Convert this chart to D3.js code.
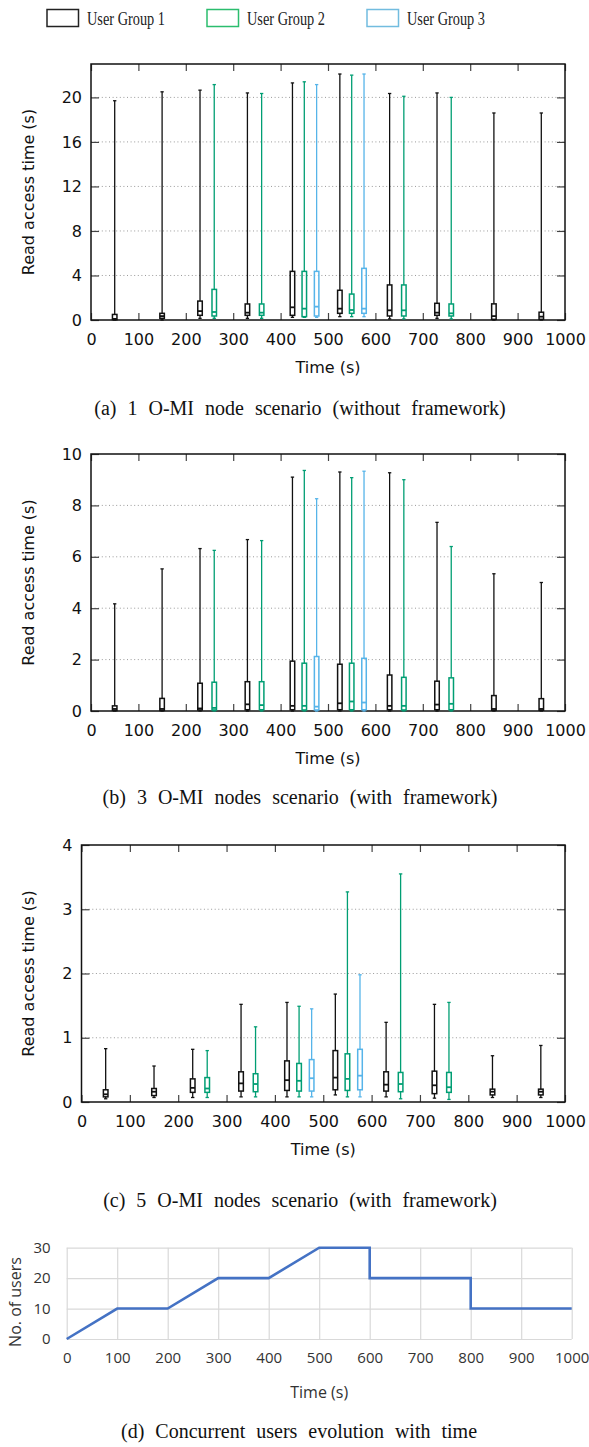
<!DOCTYPE html>
<html>
<head>
<meta charset="utf-8">
<script src="https://cdn.jsdelivr.net/npm/d3@7"></script>
<style>
body { margin: 0; background: #fff; }
svg { display: block; }
.gp text { font-family: "DejaVu Sans", sans-serif; font-size: 16px; fill: #111; }
.cap { font-family: "Liberation Serif", serif; font-size: 20px; word-spacing: 6px; fill: #111; }
.xl text { font-family: "Open Sans", sans-serif; font-size: 15px; fill: #333; }
.leg text { font-family: "Liberation Serif", serif; font-size: 18px; fill: #222; }
</style>
</head>
<body>
<div id="chart"></div>
<script>
// Labels of the groups
var groupNames = ["User Group 1", "User Group 2", "User Group 3"]

// centre time (s) of every box, per group
var g1Times = [50, 150, 230, 330, 425, 525, 630, 730, 850, 950]
var g2Times = [260, 360, 450, 550, 660, 760]
var g3Times = [476, 576]

// [min, q1, median, q3, max] read access time (s)
// (a) 1 O-MI node
var aG1 = [[0, 0.03, 0.1, 0.5, 19.7], [0, 0.15, 0.35, 0.6, 20.5], [0.15, 0.42, 0.8, 1.7, 20.65],
  [0.15, 0.42, 0.66, 1.44, 20.4], [0.24, 0.42, 1.14, 4.37, 21.3], [0.3, 0.6, 1.02, 2.67, 22.1],
  [0.1, 0.36, 0.87, 3.15, 20.35], [0.15, 0.42, 0.66, 1.5, 20.4], [0, 0.06, 0.35, 1.45, 18.6],
  [0, 0.06, 0.3, 0.7, 18.6]]
var aG2 = [[0.15, 0.36, 0.72, 2.75, 21.15], [0.15, 0.42, 0.66, 1.44, 20.35], [0.24, 0.3, 1.02, 4.37, 21.4],
  [0.3, 0.6, 0.9, 2.33, 22.0], [0.1, 0.36, 0.87, 3.15, 20.1], [0.1, 0.36, 0.6, 1.44, 20.0]]
var aG3 = [[0.24, 0.36, 1.2, 4.37, 21.15], [0.3, 0.6, 1.02, 4.64, 22.1]]

// (b) 3 O-MI nodes
var bG1 = [[0, 0.02, 0.08, 0.2, 4.17], [0, 0.02, 0.08, 0.49, 5.53], [0, 0.04, 0.1, 1.08, 6.32],
  [0, 0.05, 0.26, 1.14, 6.67], [0, 0.05, 0.2, 1.94, 9.1], [0, 0.05, 0.3, 1.82, 9.3],
  [0, 0.05, 0.2, 1.4, 9.27], [0, 0.05, 0.25, 1.16, 7.34], [0, 0.03, 0.08, 0.6, 5.34],
  [0, 0.03, 0.08, 0.48, 5.0]]
var bG2 = [[0, 0.04, 0.12, 1.12, 6.25], [0, 0.05, 0.23, 1.14, 6.63], [0, 0.04, 0.2, 1.86, 9.36],
  [0, 0.05, 0.37, 1.86, 9.08], [0, 0.04, 0.2, 1.31, 9.0], [0, 0.05, 0.28, 1.29, 6.4]]
var bG3 = [[0, 0.04, 0.17, 2.12, 8.26], [0, 0.05, 0.33, 2.05, 9.33]]

// (c) 5 O-MI nodes
var cG1 = [[0.05, 0.08, 0.12, 0.19, 0.83], [0.07, 0.1, 0.16, 0.21, 0.56], [0.07, 0.15, 0.22, 0.36, 0.82],
  [0.08, 0.17, 0.29, 0.47, 1.52], [0.08, 0.18, 0.34, 0.64, 1.55], [0.11, 0.19, 0.38, 0.8, 1.68],
  [0.08, 0.17, 0.27, 0.47, 1.24], [0.06, 0.13, 0.26, 0.48, 1.52], [0.07, 0.11, 0.16, 0.2, 0.72],
  [0.07, 0.11, 0.16, 0.2, 0.88]]
var cG2 = [[0.07, 0.15, 0.21, 0.38, 0.8], [0.08, 0.16, 0.28, 0.44, 1.17], [0.08, 0.17, 0.33, 0.6, 1.49],
  [0.08, 0.18, 0.36, 0.75, 3.27], [0.05, 0.16, 0.28, 0.46, 3.55], [0.04, 0.15, 0.23, 0.46, 1.55]]
var cG3 = [[0.08, 0.17, 0.37, 0.66, 1.45], [0.08, 0.19, 0.41, 0.82, 1.98]]

// tick labels
var xTicks = [0, 100, 200, 300, 400, 500, 600, 700, 800, 900, 1000]
var yTicksA = [0, 4, 8, 12, 16, 20]
var yTicksB = [0, 2, 4, 6, 8, 10]
var yTicksC = [0, 1, 2, 3, 4]

// (d) concurrent users
var userTimes = [0, 100, 200, 300, 400, 500, 600, 600, 800, 800, 1000]
var userCounts = [0, 10, 10, 20, 20, 30, 30, 20, 20, 10, 10]
var userTicks = [0, 10, 20, 30]

var captions = ["(a) 1 O-MI node scenario (without framework)",
  "(b) 3 O-MI nodes scenario (with framework)",
  "(c) 5 O-MI nodes scenario (with framework)",
  "(d) Concurrent users evolution with time"]

var plotColors = ["#111111", "#009e73", "#56b4e9"]
var legendColors = ["#222222", "#2bbd6e", "#72bcdf"]

var W = 589, H = 1447
var svg = d3.select("#chart").append("svg")
  .attr("width", W)
  .attr("height", H)

// legend
var leg = svg.append("g").attr("class", "leg")
var legX = [47, 207, 367]
groupNames.forEach(function(name, i) {
  leg.append("rect")
    .attr("x", legX[i]).attr("y", 9.5)
    .attr("width", 31.5).attr("height", 17)
    .attr("fill", "none")
    .attr("stroke", legendColors[i])
    .attr("stroke-width", 1.5)
  leg.append("text")
    .attr("x", legX[i] + 40).attr("y", 25)
    .attr("textLength", 78).attr("lengthAdjust", "spacingAndGlyphs")
    .text(name)
})

function drawBoxPanel(p) {
  var g = svg.append("g").attr("class", "gp")
  var x = d3.scaleLinear().domain([0, 1000]).range([p.left, p.right])
  var y = d3.scaleLinear().domain([0, p.ymax]).range([p.bottom, p.top])

  // dotted grid
  g.selectAll(".grid")
    .data(p.yTicks.filter(function(d) { return d > 0 && d < p.ymax }))
    .enter().append("line")
    .attr("x1", p.left).attr("x2", p.right)
    .attr("y1", function(d) { return y(d) }).attr("y2", function(d) { return y(d) })
    .attr("stroke", "#9a9a9a").attr("stroke-width", 1)
    .attr("stroke-dasharray", "1,2.6")

  // axes, gnuplot style: ticks inside on all four sides
  g.append("g").attr("transform", "translate(0," + p.bottom + ")")
    .call(d3.axisBottom(x).tickValues(xTicks).tickSize(-7).tickPadding(13.5).tickFormat(d3.format("d")))
  g.append("g").attr("transform", "translate(0," + p.top + ")")
    .call(d3.axisTop(x).tickValues(xTicks).tickSize(-7).tickFormat(""))
  g.append("g").attr("transform", "translate(" + p.left + ",0)")
    .call(d3.axisLeft(y).tickValues(p.yTicks).tickSize(-8).tickPadding(9).tickFormat(d3.format("d")))
  g.append("g").attr("transform", "translate(" + p.right + ",0)")
    .call(d3.axisRight(y).tickValues(p.yTicks).tickSize(-8).tickFormat(""))
  g.selectAll(".domain").remove()
  g.selectAll(".tick line").attr("stroke", "#444").attr("stroke-width", 1.2)
  g.selectAll(".tick text").attr("fill", "#111").style("font-size", "16px")
    .style("font-family", "DejaVu Sans, sans-serif")

  g.append("rect")
    .attr("x", p.left).attr("y", p.top)
    .attr("width", p.right - p.left).attr("height", p.bottom - p.top)
    .attr("fill", "none").attr("stroke", "#111").attr("stroke-width", 1.5)

  // boxes
  var bw = 9.5, cw = 7
  p.series.forEach(function(s, gi) {
    var col = plotColors[gi]
    var data = s.times.map(function(t, i) { return {t: t, v: s.vals[i]} })
    var bx = g.append("g").selectAll("g").data(data).enter().append("g")
    bx.append("line")
      .attr("x1", function(d) { return x(d.t) }).attr("x2", function(d) { return x(d.t) })
      .attr("y1", function(d) { return y(d.v[0]) }).attr("y2", function(d) { return y(d.v[1]) })
    bx.append("line")
      .attr("x1", function(d) { return x(d.t) }).attr("x2", function(d) { return x(d.t) })
      .attr("y1", function(d) { return y(d.v[3]) }).attr("y2", function(d) { return y(d.v[4]) })
    bx.append("line")
      .attr("x1", function(d) { return x(d.t - cw / 2) }).attr("x2", function(d) { return x(d.t + cw / 2) })
      .attr("y1", function(d) { return y(d.v[4]) }).attr("y2", function(d) { return y(d.v[4]) })
    bx.append("line")
      .attr("x1", function(d) { return x(d.t - cw / 2) }).attr("x2", function(d) { return x(d.t + cw / 2) })
      .attr("y1", function(d) { return y(d.v[0]) }).attr("y2", function(d) { return y(d.v[0]) })
    bx.append("rect")
      .attr("x", function(d) { return x(d.t - bw / 2) })
      .attr("width", x(bw) - x(0))
      .attr("y", function(d) { return y(d.v[3]) })
      .attr("height", function(d) { return y(d.v[1]) - y(d.v[3]) })
      .attr("fill", "none")
    bx.append("line")
      .attr("x1", function(d) { return x(d.t - bw / 2) }).attr("x2", function(d) { return x(d.t + bw / 2) })
      .attr("y1", function(d) { return y(d.v[2]) }).attr("y2", function(d) { return y(d.v[2]) })
      .attr("stroke-width", 1.8)
    bx.selectAll("line, rect").attr("stroke", col)
    bx.selectAll("line").filter(function() { return !this.getAttribute("stroke-width") })
      .attr("stroke-width", 1.3)
    bx.selectAll("rect").attr("stroke-width", 1.5)
  })

  g.append("text")
    .attr("text-anchor", "middle")
    .attr("x", (p.left + p.right) / 2).attr("y", p.bottom + 53)
    .text("Time (s)")
  g.append("text")
    .attr("text-anchor", "middle")
    .attr("transform", "translate(34," + (p.top + p.bottom) / 2 + ") rotate(-90)")
    .text("Read access time (s)")
  svg.append("text").attr("class", "cap")
    .attr("text-anchor", "middle")
    .attr("x", 300).attr("y", p.bottom + p.capGap)
    .text(p.caption)
}

drawBoxPanel({left: 91, right: 565, top: 64, bottom: 320, ymax: 23, yTicks: yTicksA, caption: captions[0], capGap: 95,
  series: [{times: g1Times, vals: aG1}, {times: g2Times, vals: aG2}, {times: g3Times, vals: aG3}]})
drawBoxPanel({left: 91, right: 565, top: 454, bottom: 711, ymax: 10, yTicks: yTicksB, caption: captions[1], capGap: 93,
  series: [{times: g1Times, vals: bG1}, {times: g2Times, vals: bG2}, {times: g3Times, vals: bG3}]})
drawBoxPanel({left: 81.5, right: 565, top: 845, bottom: 1102, ymax: 4, yTicks: yTicksC, caption: captions[2], capGap: 105,
  series: [{times: g1Times, vals: cG1}, {times: g2Times, vals: cG2}, {times: g3Times, vals: cG3}]})

// (d) Excel-like line chart
var d = {left: 66.7, right: 571.7, top: 1247.7, bottom: 1339}
var xd = d3.scaleLinear().domain([0, 1000]).range([d.left, d.right])
var yd = d3.scaleLinear().domain([0, 30]).range([d.bottom, d.top])
var gd = svg.append("g").attr("class", "xl")

gd.append("g").attr("transform", "translate(0," + d.bottom + ")")
  .call(d3.axisBottom(xd).tickValues(xTicks).tickSize(-(d.bottom - d.top)).tickPadding(13).tickFormat(d3.format("d")))
gd.append("g").attr("transform", "translate(" + d.left + ",0)")
  .call(d3.axisLeft(yd).tickValues(userTicks).tickSize(-(d.right - d.left)).tickPadding(16))
gd.selectAll(".domain").remove()
gd.selectAll(".tick line").attr("stroke", "#d9d9d9").attr("stroke-width", 1.2)
gd.selectAll(".tick text").attr("fill", "#333").style("font-size", "15px")
  .style("font-family", "Open Sans, sans-serif")

gd.append("path")
  .datum(userTimes.map(function(t, i) { return [t, userCounts[i]] }))
  .attr("fill", "none")
  .attr("stroke", "#4472c4")
  .attr("stroke-width", 2.6)
  .attr("d", d3.line().x(function(p) { return xd(p[0]) }).y(function(p) { return yd(p[1]) }))

gd.append("text")
  .attr("text-anchor", "middle")
  .attr("x", (d.left + d.right) / 2).attr("y", 1398)
  .style("font-size", "16px")
  .text("Time (s)")
gd.append("text")
  .attr("text-anchor", "middle")
  .attr("transform", "translate(21,1302) rotate(-90)")
  .style("font-size", "16px")
  .text("No. of users")
svg.append("text").attr("class", "cap")
  .attr("text-anchor", "middle")
  .attr("x", 299).attr("y", 1438)
  .text(captions[3])
</script>
</body>
</html>
